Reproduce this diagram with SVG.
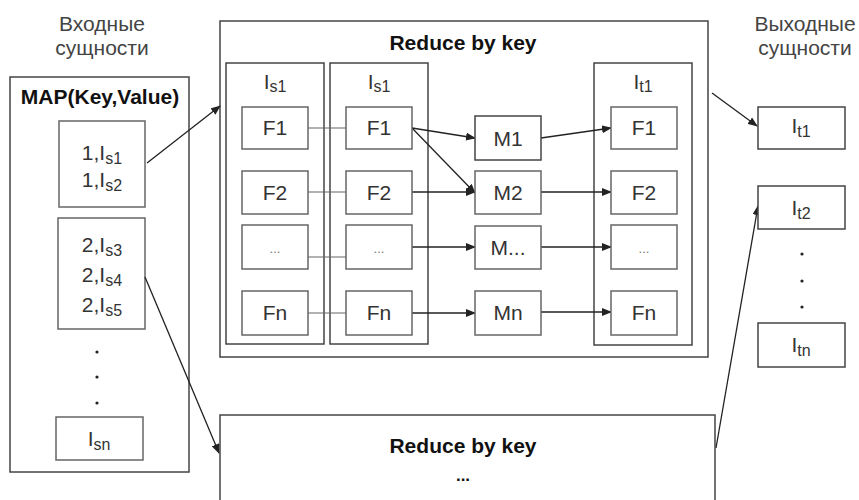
<svg xmlns="http://www.w3.org/2000/svg" width="859" height="500" viewBox="0 0 859 500">
<defs>
<marker id="ah" markerWidth="10" markerHeight="8" refX="9" refY="4" orient="auto" markerUnits="userSpaceOnUse">
<path d="M0,0 L10,4 L0,8 Z" fill="#222"/>
</marker>
<style>
.t{font-family:"Liberation Sans",Arial,sans-serif;fill:#333;text-anchor:middle}
.r{font-size:21px}
.g{font-size:21px;fill:#444}
.h{font-size:21px;font-weight:bold;fill:#111}
.s{font-size:16px}
.d{font-size:13px;fill:#777}
.box{fill:#fff;stroke:#444;stroke-width:1.5}
.col{fill:none;stroke:#444;stroke-width:1.5}
.sm{fill:#fff;stroke:#666;stroke-width:1.5}
.ln{stroke:#666;stroke-width:1.1;fill:none}
.ar{stroke:#222;stroke-width:1.3;fill:none;marker-end:url(#ah)}
</style>
</defs>
<rect width="859" height="500" fill="#fff"/>

<g id="input-label">
<text class="t g" x="102" y="31">Входные</text>
<text class="t g" x="102" y="55">сущности</text>
</g>
<g id="output-label">
<text class="t g" x="805" y="31">Выходные</text>
<text class="t g" x="805" y="55">сущности</text>
</g>

<g id="map">
<rect class="box" x="10" y="77" width="179" height="395"/>
<text class="t h" x="100" y="104">MAP(Key,Value)</text>
</g>
<g id="key1">
<rect class="sm" x="59" y="121" width="86" height="86"/>
<text class="t r" x="102" y="160">1,I<tspan class="s" dy="4">s1</tspan></text>
<text class="t r" x="102" y="187">1,I<tspan class="s" dy="4">s2</tspan></text>
</g>
<g id="key2">
<rect class="sm" x="58" y="218" width="87" height="111"/>
<text class="t r" x="102" y="252">2,I<tspan class="s" dy="4">s3</tspan></text>
<text class="t r" x="102" y="282">2,I<tspan class="s" dy="4">s4</tspan></text>
<text class="t r" x="102" y="312">2,I<tspan class="s" dy="4">s5</tspan></text>
</g>
<g id="map-dots" fill="#222">
<circle cx="97" cy="352" r="1.6"/>
<circle cx="97" cy="377" r="1.6"/>
<circle cx="97" cy="403" r="1.6"/>
</g>
<g id="isn">
<rect class="sm" x="56" y="417" width="87" height="43"/>
<text class="t r" x="99" y="446">I<tspan class="s" dy="4">sn</tspan></text>
</g>

<g id="reduce1">
<rect class="box" x="220" y="21" width="488" height="336"/>
<text class="t h" x="463" y="50">Reduce by key</text>
</g>
<g id="col1">
<rect class="col" x="226" y="63" width="98" height="281" stroke="#666"/>
<text class="t r" x="275" y="89">I<tspan class="s" dy="3">s1</tspan></text>
</g>
<g id="col2">
<rect class="col" x="330" y="63" width="98" height="281"/>
<text class="t r" x="379" y="89">I<tspan class="s" dy="3">s1</tspan></text>
</g>
<g id="col3">
<rect class="col" x="594" y="63" width="98" height="282"/>
<text class="t r" x="643" y="89">I<tspan class="s" dy="3">t1</tspan></text>
</g>

<g id="connectors">
<line class="ln" x1="308" y1="128" x2="346" y2="128"/>
<line class="ln" x1="308" y1="192" x2="346" y2="192"/>
<line class="ln" x1="308" y1="257" x2="346" y2="257"/>
<line class="ln" x1="308" y1="313" x2="346" y2="313"/>
<line class="ar" x1="412" y1="128" x2="475" y2="138"/>
<line class="ar" x1="412" y1="128" x2="475" y2="193"/>
<line class="ar" x1="412" y1="192" x2="475" y2="192"/>
<line class="ar" x1="412" y1="247" x2="475" y2="247"/>
<line class="ar" x1="412" y1="313" x2="475" y2="313"/>
<line class="ar" x1="541" y1="138" x2="611" y2="128"/>
<line class="ar" x1="541" y1="192" x2="611" y2="192"/>
<line class="ar" x1="541" y1="247" x2="611" y2="247"/>
<line class="ar" x1="541" y1="312" x2="611" y2="312"/>
<line class="ar" x1="147" y1="163" x2="220" y2="106"/>
<line class="ar" x1="145" y1="277" x2="219" y2="453"/>
<line class="ar" x1="712" y1="93" x2="757" y2="126"/>
<line class="ar" x1="716" y1="448" x2="758" y2="206"/>
</g>

<g id="f1a"><rect class="sm" x="242" y="107" width="66" height="42"/><text class="t r" x="275" y="135">F1</text></g>
<g id="f2a"><rect class="sm" x="242" y="171" width="66" height="43"/><text class="t r" x="275" y="200">F2</text></g>
<g id="fda"><rect class="sm" x="242" y="225" width="66" height="44"/><text class="t d" x="275" y="253">...</text></g>
<g id="fna"><rect class="sm" x="242" y="291" width="66" height="44"/><text class="t r" x="275" y="320">Fn</text></g>

<g id="f1b"><rect class="sm" x="346" y="107" width="66" height="42"/><text class="t r" x="379" y="135">F1</text></g>
<g id="f2b"><rect class="sm" x="346" y="171" width="66" height="43"/><text class="t r" x="379" y="200">F2</text></g>
<g id="fdb"><rect class="sm" x="346" y="225" width="66" height="44"/><text class="t d" x="379" y="253">...</text></g>
<g id="fnb"><rect class="sm" x="346" y="291" width="66" height="44"/><text class="t r" x="379" y="320">Fn</text></g>

<g id="m1"><rect class="box" x="475" y="116" width="66" height="44"/><text class="t r" x="508" y="146">M1</text></g>
<g id="m2"><rect class="sm" x="475" y="171" width="66" height="43"/><text class="t r" x="508" y="200">M2</text></g>
<g id="md"><rect class="sm" x="475" y="226" width="66" height="43"/><text class="t r" x="508" y="255">M...</text></g>
<g id="mn"><rect class="sm" x="475" y="291" width="66" height="44"/><text class="t r" x="508" y="320">Mn</text></g>

<g id="f1c"><rect class="sm" x="611" y="107" width="66" height="42"/><text class="t r" x="644" y="135">F1</text></g>
<g id="f2c"><rect class="sm" x="611" y="171" width="66" height="43"/><text class="t r" x="644" y="200">F2</text></g>
<g id="fdc"><rect class="sm" x="611" y="225" width="66" height="44"/><text class="t d" x="644" y="253">...</text></g>
<g id="fnc"><rect class="sm" x="611" y="291" width="66" height="44"/><text class="t r" x="644" y="320">Fn</text></g>

<g id="reduce2">
<path class="box" d="M220,500 V415 H715 V500"/>
<text class="t h" x="463" y="453">Reduce by key</text>
<text class="t h" x="463" y="481" style="font-size:17px">...</text>
</g>

<g id="it1"><rect class="box" x="758" y="107" width="87" height="42"/><text class="t r" x="801" y="133">I<tspan class="s" dy="4">t1</tspan></text></g>
<g id="it2"><rect class="box" x="758" y="186" width="87" height="43"/><text class="t r" x="801" y="215">I<tspan class="s" dy="4">t2</tspan></text></g>
<g id="out-dots" fill="#222">
<circle cx="802" cy="254" r="1.6"/>
<circle cx="802" cy="281" r="1.6"/>
<circle cx="802" cy="307" r="1.6"/>
</g>
<g id="itn"><rect class="box" x="758" y="323" width="87" height="44"/><text class="t r" x="801" y="352">I<tspan class="s" dy="4">tn</tspan></text></g>
</svg>
